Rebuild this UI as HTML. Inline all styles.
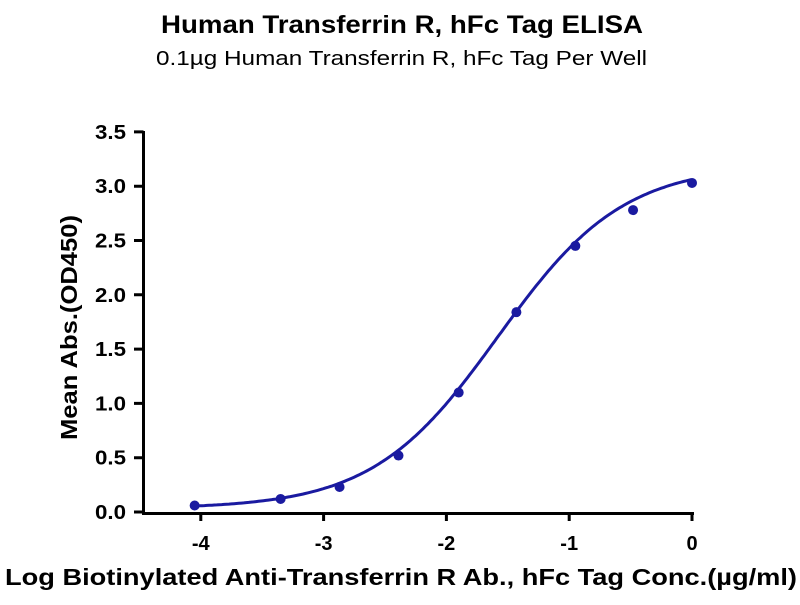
<!DOCTYPE html><html><head><style>body{margin:0;background:#fff}svg text{font-family:"Liberation Sans",Arial,sans-serif}</style></head><body>
<svg id="s" width="800" height="600" xmlns="http://www.w3.org/2000/svg">
<text x="161" y="33" font-size="25" font-weight="bold" textLength="482" lengthAdjust="spacingAndGlyphs">Human Transferrin R, hFc Tag ELISA</text>
<text x="156" y="65" font-size="20" textLength="491" lengthAdjust="spacingAndGlyphs">0.1µg Human Transferrin R, hFc Tag Per Well</text>
<g stroke="#000" stroke-width="3" fill="none">
<path d="M143.5 131V513.5H694"/>
<path id="ticks"/>
</g>
<g id="lab" font-size="20" font-weight="bold"></g>
<text transform="translate(77,440) rotate(-90)" font-size="23" font-weight="bold" textLength="225" lengthAdjust="spacingAndGlyphs">Mean Abs.(OD450)</text>
<text x="5" y="585" font-size="23" font-weight="bold" textLength="792" lengthAdjust="spacingAndGlyphs">Log Biotinylated Anti-Transferrin R Ab., hFc Tag Conc.(µg/ml)</text>
<path id="curve" stroke="#1a1aa0" stroke-width="3" fill="none"/>
<g id="pts" fill="#1a1aa0"></g>
</svg>
<script>
const X=v=>692+v*122.8, Y=v=>512-v*108.6;
let d="",lab="";
for(let i=0;i<=7;i++){let v=i*0.5,y=Y(v);d+=`M134 ${y}H143.5`;lab+=`<text x="95" y="${y+7}" textLength="31" lengthAdjust="spacingAndGlyphs">${v.toFixed(1)}</text>`;}
for(let i=-4;i<=0;i++){let x=X(i);d+=`M${x} 513.5V521`;lab+=`<text x="${x}" y="550" text-anchor="middle">${i}</text>`;}
document.getElementById('ticks').setAttribute('d',d);
document.getElementById('lab').innerHTML=lab;
const f=x=>0.03+(3.2-0.03)/(1+Math.pow(10,(-1.58-x)*0.85));
let c="";for(let x=-4.05;x<=0.001;x+=0.02){c+=(c?"L":"M")+X(x).toFixed(1)+" "+Y(f(x)).toFixed(1);}
document.getElementById('curve').setAttribute('d',c);
const p=[[-4.05,0.06],[-3.35,0.12],[-2.87,0.23],[-2.39,0.52],[-1.9,1.1],[-1.43,1.84],[-0.95,2.45],[-0.48,2.78],[0,3.03]];
document.getElementById('pts').innerHTML=p.map(a=>`<circle cx="${X(a[0])}" cy="${Y(a[1])}" r="5"/>`).join("");
</script>
</body></html>
